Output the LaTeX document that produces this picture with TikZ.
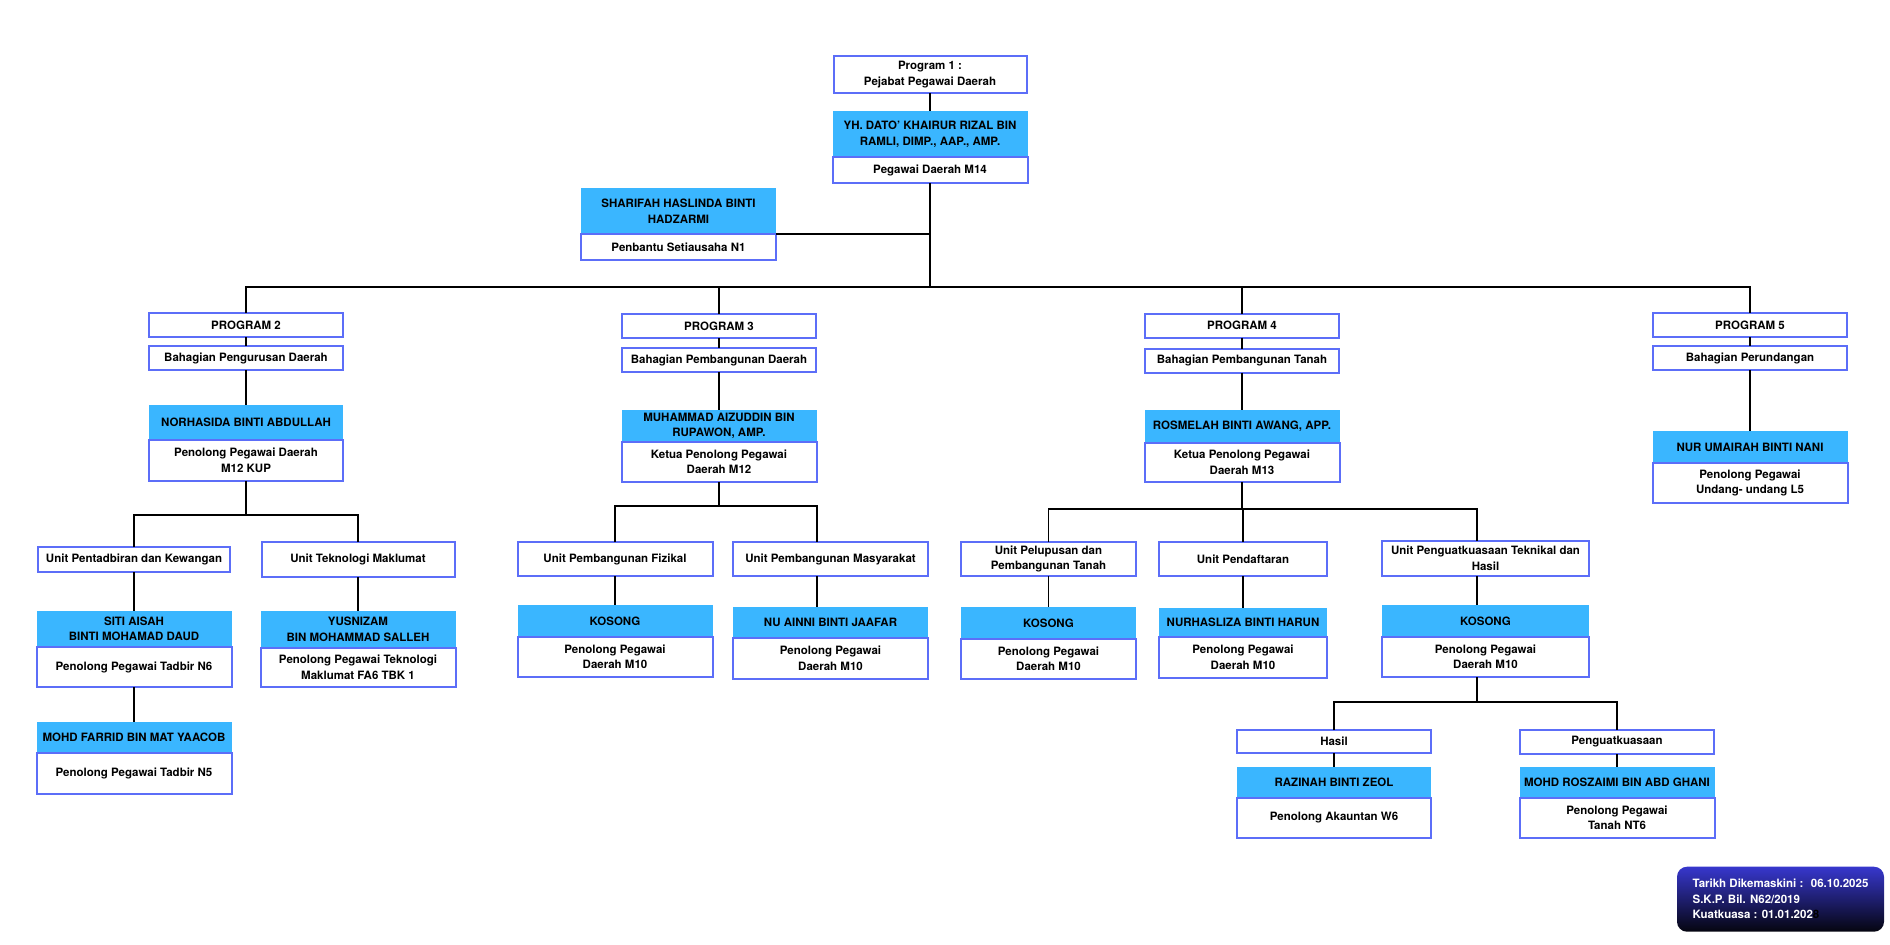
\documentclass[tikz,border=0pt]{standalone}
\usepackage{fontspec}
\setmainfont{TeX Gyre Heros}
\usetikzlibrary{positioning}
\definecolor{nmblue}{RGB}{58,182,255}
\definecolor{edgeblue}{RGB}{92,110,248}
\definecolor{foottop}{RGB}{55,55,205}
\definecolor{footbot}{RGB}{5,5,15}

\begin{document}
\begin{tikzpicture}[x=1pt,y=-1pt,
    conn/.style={line width=1.8pt},
    sz/.style 2 args={minimum width=#1,minimum height=#2},
    txt/.style={inner sep=0pt,outer sep=0pt,align=center,
      font=\bfseries\fontsize{11.5}{15.5}\selectfont},
    box/.style={txt,draw=edgeblue,line width=2pt,fill=white},
    nm/.style={txt,fill=nmblue},
    stamp/.style={rounded corners=10pt,top color=foottop,bottom color=footbot,
      text=white,minimum width=207pt,minimum height=65pt,
      inner xsep=6pt,inner ysep=0pt,align=left,
      font=\bfseries\fontsize{11.5}{15.5}\selectfont}]

  \useasboundingbox (0,0) rectangle (1890,945);

  \node[box,sz={193}{37}] (p1) at (930,74.5) {Program 1 :\\Pejabat Pegawai Daerah};
  \node[nm,sz={195}{46}] (dato) at (930,134) {YH. DATO’ KHAIRUR RIZAL BIN\\RAMLI, DIMP., AAP., AMP.};
  \node[box,sz={195}{26}] (datoR) [below=0pt of dato] {Pegawai Daerah M14};
  \node[nm,sz={195}{46}] (shf) at (678.5,211) {SHARIFAH HASLINDA BINTI\\HADZARMI};
  \node[box,sz={195}{26}] (shfR) [below=0pt of shf] {Penbantu Setiausaha N1};

  \node[box,sz={194}{24}] (p2) at (246,325) {PROGRAM 2};
  \node[box,sz={194}{24}] (b2) at (246,358) {Bahagian Pengurusan Daerah};
  \node[nm,sz={194}{35}] (nor) at (246,422.5) {NORHASIDA BINTI ABDULLAH};
  \node[box,sz={194}{41}] (norR) [below=0pt of nor] {Penolong Pegawai Daerah\\M12 KUP};

  \node[box,sz={194}{24}] (p3) at (719,326) {PROGRAM 3};
  \node[box,sz={194}{24}] (b3) at (719,360) {Bahagian Pembangunan Daerah};
  \node[nm,sz={195}{32}] (muh) at (719,426) {MUHAMMAD AIZUDDIN BIN\\RUPAWON, AMP.};
  \node[box,sz={195}{40}] (muhR) [below=0pt of muh] {Ketua Penolong Pegawai\\Daerah M12};

  \node[box,sz={194}{24}] (p4) at (1242,325.5) {PROGRAM 4};
  \node[box,sz={194}{24}] (b4) at (1242,360.5) {Bahagian Pembangunan Tanah};
  \node[nm,sz={195}{33}] (ros) at (1242,426.5) {ROSMELAH BINTI AWANG, APP.};
  \node[box,sz={195}{39}] (rosR) [below=0pt of ros] {Ketua Penolong Pegawai\\Daerah M13};

  \node[box,sz={194}{24}] (p5) at (1750,325) {PROGRAM 5};
  \node[box,sz={194}{24}] (b5) at (1750,358) {Bahagian Perundangan};
  \node[nm,sz={195}{32}] (nur) at (1750,447) {NUR UMAIRAH BINTI NANI};
  \node[box,sz={195}{40}] (nurR) [below=0pt of nur] {Penolong Pegawai\\Undang- undang L5};

  \node[box,sz={192}{25}] (upk) at (134,559.5) {Unit Pentadbiran dan Kewangan};
  \node[box,sz={193}{35}] (utm) at (358,559.5) {Unit Teknologi Maklumat};
  \node[nm,sz={195}{36}] (siti) at (134,629) {SITI AISAH\\BINTI MOHAMAD DAUD};
  \node[box,sz={195}{40}] (sitiR) [below=0pt of siti] {Penolong Pegawai Tadbir N6};
  \node[nm,sz={195}{37}] (yus) at (358,629.5) {YUSNIZAM\\BIN MOHAMMAD SALLEH};
  \node[box,sz={195}{39}] (yusR) [below=0pt of yus] {Penolong Pegawai Teknologi\\Maklumat FA6 TBK 1};
  \node[nm,sz={195}{31}] (far) at (134,737.5) {MOHD FARRID BIN MAT YAACOB};
  \node[box,sz={195}{41}] (farR) [below=0pt of far] {Penolong Pegawai Tadbir N5};

  \node[box,sz={195}{34}] (upf) at (615,559) {Unit Pembangunan Fizikal};
  \node[box,sz={195}{34}] (upm) at (830.5,559) {Unit Pembangunan Masyarakat};
  \node[nm,sz={195}{32}] (kos1) at (615,621) {KOSONG};
  \node[box,sz={195}{40}] (kos1R) [below=0pt of kos1] {Penolong Pegawai\\Daerah M10};
  \node[nm,sz={195}{31}] (nua) at (830.5,622.5) {NU AINNI BINTI JAAFAR};
  \node[box,sz={195}{41}] (nuaR) [below=0pt of nua] {Penolong Pegawai\\Daerah M10};

  \node[box,sz={175}{34}] (upl) at (1048.5,559) {Unit Pelupusan dan\\Pembangunan Tanah};
  \node[box,sz={168}{34}] (upd) at (1243,559) {Unit Pendaftaran};
  \node[box,sz={207}{35}] (upt) at (1485.5,558.5) {Unit Penguatkuasaan Teknikal dan\\Hasil};
  \node[nm,sz={175}{32}] (kos2) at (1048.5,623) {KOSONG};
  \node[box,sz={175}{40}] (kos2R) [below=0pt of kos2] {Penolong Pegawai\\Daerah M10};
  \node[nm,sz={168}{29}] (nhz) at (1243,622.5) {NURHASLIZA BINTI HARUN};
  \node[box,sz={168}{41}] (nhzR) [below=0pt of nhz] {Penolong Pegawai\\Daerah M10};
  \node[nm,sz={207}{32}] (kos3) at (1485.5,621) {KOSONG};
  \node[box,sz={207}{40}] (kos3R) [below=0pt of kos3] {Penolong Pegawai\\Daerah M10};

  \node[box,sz={194}{23}] (hsl) at (1334,741.5) {Hasil};
  \node[box,sz={194}{24}] (pgk) at (1617,742) {Penguatkuasaan};
  \node[nm,sz={194}{31}] (raz) at (1334,782.5) {RAZINAH BINTI ZEOL};
  \node[box,sz={194}{40}] (razR) [below=0pt of raz] {Penolong Akauntan W6};
  \node[nm,sz={195}{31}] (rsz) at (1617,782.5) {MOHD ROSZAIMI BIN ABD GHANI};
  \node[box,sz={195}{40}] (rszR) [below=0pt of rsz] {Penolong Pegawai\\Tanah NT6};

  \node[stamp] (stamp) at (1780.5,899.2) {Tarikh Dikemaskini :~ 06.10.2025\\S.K.P. Bil. N62/2019\\Kuatkuasa : 01.01.202{\color{black}8}};

  \coordinate (bus1) at (930,287);
  \draw[conn] (p1) -- (dato);
  \draw[conn] (datoR) -- (bus1);
  \draw[conn] (shf.south east) -- (shf.south east -| bus1);
  \draw[conn] (p2.north) |- (bus1) -| (p5.north);
  \draw[conn] (p3.north) -- (p3.north |- bus1);
  \draw[conn] (p4.north) -- (p4.north |- bus1);
  \foreach \a/\b in {p2/b2,b2/nor,p3/b3,b3/muh,p4/b4,b4/ros,p5/b5,b5/nur}
    \draw[conn] (\a) -- (\b);

  \coordinate (bus2) at (246,515);
  \draw[conn] (norR) -- (bus2);
  \draw[conn] (upk.north) |- (bus2) -| (utm.north);
  \draw[conn] (upk) -- (siti) (sitiR) -- (far) (utm) -- (yus);

  \coordinate (bus3) at (719,506);
  \coordinate (bus3r) at (817,506);
  \draw[conn] (muhR) -- (bus3);
  \draw[conn] (upf.north) |- (bus3r) -- (bus3r |- upm.north);
  \draw[conn] (upf) -- (kos1) (upm.south -| bus3r) -- (bus3r |- nua.north);

  \coordinate (bus4) at (1242,509);
  \coordinate (bus4r) at (1477,509);
  \draw[conn] (rosR) -- (bus4);
  \draw[conn] (upl.north) |- (bus4r) -- (bus4r |- upt.north);
  \draw[conn] (upd.north) -- (upd.north |- bus4);
  \draw[conn] (upl) -- (kos2) (upd) -- (nhz) (upt.south -| bus4r) -- (bus4r |- kos3.north);

  \coordinate (bus5) at (1477,702);
  \draw[conn] (kos3R.south -| bus5) -- (bus5);
  \draw[conn] (hsl.north) |- (bus5) -| (pgk.north);
  \draw[conn] (hsl) -- (raz) (pgk) -- (rsz);
\end{tikzpicture}
\end{document}
